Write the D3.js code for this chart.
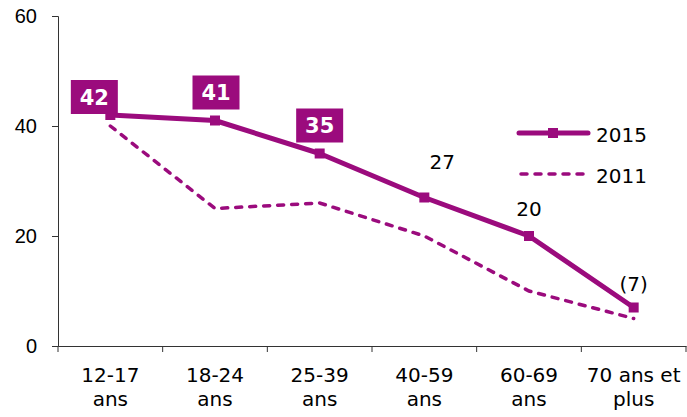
<!DOCTYPE html>
<html>
<head>
<meta charset="utf-8">
<script src="https://cdn.jsdelivr.net/npm/d3@7"></script>
<style>
  body { margin: 0; background: #fff; }
  svg { font-family: "DejaVu Sans", Verdana, sans-serif; }
</style>
</head>
<body>
<svg id="chart"></svg>
<script>
const categories = ["12-17\nans", "18-24\nans", "25-39\nans", "40-59\nans", "60-69\nans", "70 ans et\nplus"];
const values2015 = [42, 41, 35, 27, 20, 7];
const values2011 = [40, 25, 26, 20, 10, 5];
const labels2015 = ["42", "41", "35", "27", "20", "(7)"];
const yTicks = [0, 20, 40, 60];

const width = 687;
const height = 417;
const margin = { top: 16, right: 1, bottom: 71, left: 58 };
const purple = "#9b0b7d";

const svg = d3.select("#chart")
    .attr("width", width)
    .attr("height", height);

const x = d3.scaleBand()
    .domain(categories)
    .range([margin.left, width - margin.right]);

const y = d3.scaleLinear()
    .domain([0, 60])
    .range([height - margin.bottom, margin.top]);

const cx = d => x(d) + x.bandwidth() / 2;

// axes
const yAxis = svg.append("g")
    .attr("transform", `translate(${margin.left},0)`)
    .call(d3.axisLeft(y).tickValues(yTicks).tickSize(6).tickPadding(15));
yAxis.selectAll("text").style("font-size", "20px").attr("fill", "#000");
yAxis.selectAll("line, path").attr("stroke", "#333");

const xAxis = svg.append("g")
    .attr("transform", `translate(0,${height - margin.bottom})`)
    .call(d3.axisBottom(x).tickSize(0).tickFormat(""));
xAxis.select("path").attr("stroke", "#333");

// ticks between categories
xAxis.selectAll("line.sep")
    .data(categories.concat(["end"]))
    .enter()
    .append("line")
    .attr("class", "sep")
    .attr("x1", (d, i) => margin.left + i * x.bandwidth())
    .attr("x2", (d, i) => margin.left + i * x.bandwidth())
    .attr("y1", 0)
    .attr("y2", 6)
    .attr("stroke", "#333");

// category labels (two lines)
const catLabels = svg.append("g")
    .selectAll("text")
    .data(categories)
    .enter()
    .append("text")
    .attr("x", d => cx(d))
    .attr("y", 382)
    .attr("text-anchor", "middle")
    .style("font-size", "20px")
    .attr("fill", "#000");
catLabels.each(function (d) {
    const parts = d.split("\n");
    d3.select(this).selectAll("tspan")
        .data(parts)
        .enter()
        .append("tspan")
        .attr("x", cx(d))
        .attr("dy", (p, i) => i === 0 ? 0 : 24)
        .text(p => p);
});

// 2011 dashed line
const lineGen = d3.line()
    .x((d, i) => cx(categories[i]))
    .y(d => y(d));

svg.append("path")
    .datum(values2011)
    .attr("d", lineGen)
    .attr("fill", "none")
    .attr("stroke", purple)
    .attr("stroke-width", 3.5)
    .attr("stroke-linecap", "round")
    .attr("stroke-dasharray", "6,8");

// 2015 solid line
svg.append("path")
    .datum(values2015)
    .attr("d", lineGen)
    .attr("fill", "none")
    .attr("stroke", purple)
    .attr("stroke-width", 5)
    .attr("stroke-linejoin", "round");

svg.selectAll("rect.marker")
    .data(values2015)
    .enter()
    .append("rect")
    .attr("class", "marker")
    .attr("x", (d, i) => cx(categories[i]) - 5)
    .attr("y", d => y(d) - 5)
    .attr("width", 10)
    .attr("height", 10)
    .attr("fill", purple);

// data labels
const labelOffsets = [
    { dx: -16, dy: -18, boxed: true },
    { dx: 1, dy: -28, boxed: true },
    { dx: 0, dy: -28, boxed: true },
    { dx: 18, dy: -29, boxed: false },
    { dx: 0, dy: -20, boxed: false },
    { dx: 0, dy: -17, boxed: false }
];

values2015.forEach((v, i) => {
    const o = labelOffsets[i];
    const px = cx(categories[i]) + o.dx;
    const py = y(v) + o.dy;
    if (o.boxed) {
        svg.append("rect")
            .attr("x", px - 23.5)
            .attr("y", py - 17)
            .attr("width", 47)
            .attr("height", 34)
            .attr("fill", purple);
        svg.append("text")
            .attr("x", px)
            .attr("y", py + 7.5)
            .attr("text-anchor", "middle")
            .style("font-size", "21px")
            .style("font-weight", "bold")
            .attr("fill", "#fff")
            .text(labels2015[i]);
    } else {
        svg.append("text")
            .attr("x", px)
            .attr("y", py)
            .attr("text-anchor", "middle")
            .style("font-size", "20px")
            .attr("fill", "#000")
            .text(labels2015[i]);
    }
});

// legend
const legend = svg.append("g").attr("transform", "translate(519,133)");
legend.append("line")
    .attr("x1", 0).attr("x2", 69).attr("y1", 0).attr("y2", 0)
    .attr("stroke", purple).attr("stroke-width", 5).attr("stroke-linecap", "round");
legend.append("rect")
    .attr("x", 29).attr("y", -5).attr("width", 10).attr("height", 10)
    .attr("fill", purple);
legend.append("text")
    .attr("x", 77).attr("y", 9)
    .style("font-size", "20px").attr("fill", "#000")
    .text("2015");
legend.append("line")
    .attr("x1", 2).attr("x2", 69).attr("y1", 41).attr("y2", 41)
    .attr("stroke", purple).attr("stroke-width", 3.5)
    .attr("stroke-linecap", "round").attr("stroke-dasharray", "6,8");
legend.append("text")
    .attr("x", 77).attr("y", 50)
    .style("font-size", "20px").attr("fill", "#000")
    .text("2011");
</script>
</body>
</html>
